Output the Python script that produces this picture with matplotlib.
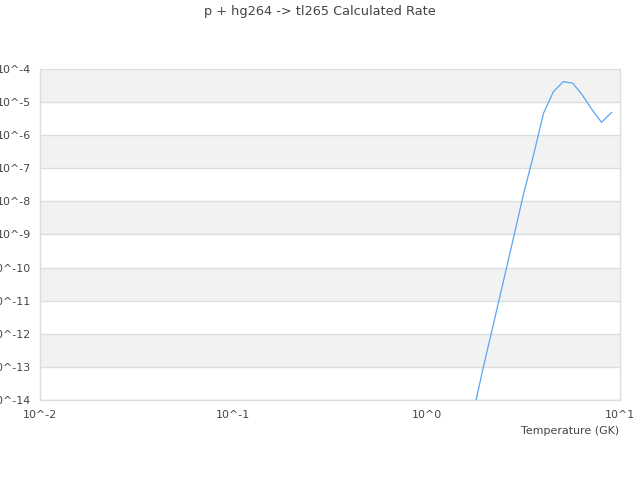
import numpy as np
import matplotlib
matplotlib.use("Agg")
import matplotlib.pyplot as plt
from matplotlib.ticker import FixedLocator, NullLocator

# temperature grid (GK) and log10 of the rate
temperature = [1.75, 1.96, 2.21, 2.49, 2.81, 3.16, 3.57, 4.02, 4.52,
               5.09, 5.70, 6.34, 7.15, 8.02, 9.05]
log_rate = [-14.33, -13.03, -11.73, -10.43, -9.11, -7.81, -6.60, -5.34, -4.69,
            -4.38, -4.43, -4.76, -5.22, -5.61, -5.31]

x_ticks = [0.01, 0.1, 1, 10]
x_labels = ["10^-2", "10^-1", "10^0", "10^1"]
y_exponents = list(range(-14, -3))
y_labels = ["10^%d" % e for e in y_exponents]

title = "p + hg264 -> tl265 Calculated Rate"
xlabel = "Temperature (GK)"

text_color = "#444444"
grid_color = "#dddddd"
band_color = "#f2f2f2"


def main():
    fig = plt.figure(figsize=(6.4, 4.8), dpi=100)
    ax = fig.add_axes([40 / 640, 80 / 480, 580 / 640, 331 / 480])

    ax.set_xscale("log")
    ax.set_yscale("log")
    ax.set_xlim(x_ticks[0], x_ticks[-1])
    ax.set_ylim(10.0 ** y_exponents[0], 10.0 ** y_exponents[-1])

    # alternating bands, grey on the top decade
    for e in y_exponents[:-1]:
        if (y_exponents[-1] - e) % 2 == 1:
            ax.axhspan(10.0 ** e, 10.0 ** (e + 1), color=band_color, lw=0, zorder=0)
    for e in y_exponents:
        ax.axhline(10.0 ** e, color=grid_color, lw=1, zorder=1)

    rate = [10.0 ** v for v in log_rate]
    ax.plot(temperature, rate, color="#5ea3f0", lw=0.9, zorder=3)

    ax.xaxis.set_major_locator(FixedLocator(x_ticks))
    ax.xaxis.set_minor_locator(NullLocator())
    ax.set_xticklabels(x_labels)
    ax.yaxis.set_major_locator(FixedLocator([10.0 ** e for e in y_exponents]))
    ax.yaxis.set_minor_locator(NullLocator())
    ax.set_yticklabels(y_labels)
    ax.tick_params(axis="both", length=0, labelsize=7.9, colors=text_color)
    ax.tick_params(axis="x", pad=7)
    ax.tick_params(axis="y", pad=6.5)

    for side in ["left", "right", "top", "bottom"]:
        ax.spines[side].set_color(grid_color)
        ax.spines[side].set_linewidth(1)
    ax.spines["top"].set_visible(False)

    fig.text(0.5, 1 - 12 / 480, title, ha="center", va="center",
             fontsize=9.3, color=text_color)
    fig.text(619 / 640, 1 - 431 / 480, xlabel, ha="right", va="center",
             fontsize=7.9, color=text_color)

    fig.savefig("out.png", dpi=100)


if __name__ == "__main__":
    main()
